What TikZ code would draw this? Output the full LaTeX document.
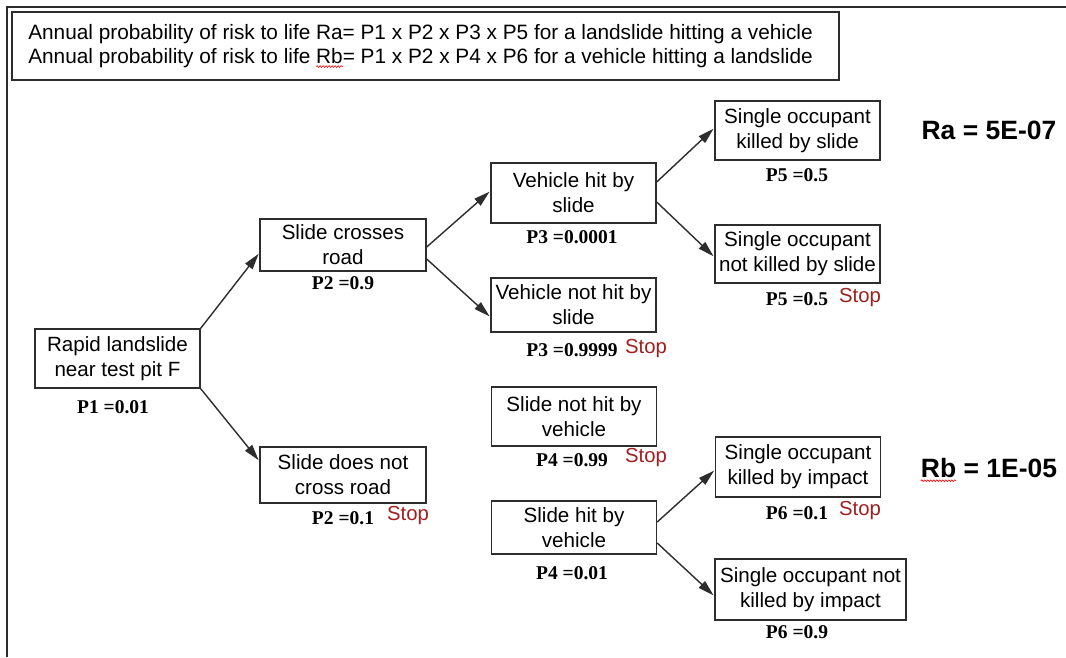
\documentclass[tikz,border=0pt]{standalone}
\usepackage{fontspec}
\setmainfont{Liberation Sans}
\newfontfamily\labelfont{Liberation Serif}
\usetikzlibrary{arrows.meta,decorations.pathmorphing}

\definecolor{stopred}{RGB}{160,32,32}
\definecolor{linegray}{RGB}{45,45,45}

% red wavy spell-check underline under a word
\newcommand\spellwave[1]{\tikz[baseline=(sw.base)]{%
  \node[inner sep=0pt,outer sep=0pt] (sw) {#1};
  \draw[overlay,red,line width=0.6pt,decorate,
        decoration={snake,amplitude=0.9pt,segment length=3pt}]
    ([yshift=-3pt]sw.south west) -- ([yshift=-3pt]sw.south east);}}

\tikzset{
  box/.style={draw=linegray, line width=1.4pt, fill=white, align=center,
    inner sep=0pt, minimum width=165pt, font=\fontsize{20.6}{25}\selectfont},
  prob/.style={inner sep=0pt, font=\labelfont\bfseries\fontsize{19.5}{22}\selectfont},
  stoptext/.style={inner sep=0pt, text=stopred, font=\fontsize{20.3}{24}\selectfont},
  risk/.style={inner sep=0pt, font=\bfseries\fontsize{26.5}{30}\selectfont},
  link/.style={draw=linegray, line width=1.4pt, shorten >=1pt,
    -{Triangle[length=16pt,width=9pt]}},
}

\begin{document}
\begin{tikzpicture}[x=1pt,y=-1pt]
  \useasboundingbox (0,0) rectangle (1066,657);
  \fill[white] (0,0) rectangle (1066,657);

  % outer frame (left and top edges)
  \draw[linegray, line width=1.6pt] (7,657) -- (7,7) -- (1066,7);

  % formula header
  \node[draw=linegray, line width=1.8pt, minimum width=827pt, minimum height=68pt,
        inner sep=0pt] (header) at (425.5,46) {};
  \node[anchor=west, align=left, inner sep=0pt, font=\fontsize{20.8}{24}\selectfont]
    (headtxt) at ([xshift=17pt]header.west)
    {Annual probability of risk to life Ra= P1 x P2 x P3 x P5 for a landslide hitting a vehicle\\
     Annual probability of risk to life \spellwave{Rb}= P1 x P2 x P4 x P6 for a vehicle hitting a landslide};

  % event tree boxes
  \node[box, minimum height=59pt] (rapid) at (117.5,358.5) {Rapid landslide\\near test pit F};
  \node[box, minimum width=166pt, minimum height=52pt] (cross) at (343,245) {Slide crosses\\road};
  \node[box, minimum width=166pt, minimum height=56pt] (nocross) at (343,475) {Slide does not\\cross road};
  \node[box, minimum height=60pt] (vhit) at (573.5,193) {Vehicle hit by\\slide};
  \node[box, minimum height=54pt] (vnohit) at (573.5,305) {Vehicle not hit by\\slide};
  \node[box, minimum height=59pt] (kslide) at (797.5,130.5) {Single occupant\\killed by slide};
  \node[box, minimum height=58pt] (nkslide) at (797.5,254) {Single occupant\\not killed by slide};
  \node[box, minimum height=59pt] (snohit) at (574,416.5) {Slide not hit by\\vehicle};
  \node[box, minimum height=53pt] (shit) at (574,527.5) {Slide hit by\\vehicle};
  \node[box, minimum height=60pt] (kimpact) at (798,467) {Single occupant\\killed by impact};
  \node[box, minimum width=191pt, minimum height=61pt] (nkimpact) at (810.5,589.5) {Single occupant not\\killed by impact};

  % probabilities
  \node[prob] (p1) at (113,407) {P1 =0.01};
  \node[prob] (p2a) at (343,283) {P2 =0.9};
  \node[prob] (p2b) at (343,518) {P2 =0.1};
  \node[prob] (p3a) at (572,237) {P3 =0.0001};
  \node[prob] (p3b) at (572,350) {P3 =0.9999};
  \node[prob] (p5a) at (797,175) {P5 =0.5};
  \node[prob] (p5b) at (797,299) {P5 =0.5};
  \node[prob] (p4a) at (572,460) {P4 =0.99};
  \node[prob] (p4b) at (572,573) {P4 =0.01};
  \node[prob] (p6a) at (797,513) {P6 =0.1};
  \node[prob] (p6b) at (797,632) {P6 =0.9};

  % terminal branches
  \node[stoptext] (stop2) at (408,516) {Stop};
  \node[stoptext] (stop3) at (646,349) {Stop};
  \node[stoptext] (stop5) at (860,298) {Stop};
  \node[stoptext] (stop4) at (646,458) {Stop};
  \node[stoptext] (stop6) at (860,511) {Stop};

  % resulting risks
  \node[risk] (ra) at (989,130) {Ra = 5E-07};
  \node[risk] (rb) at (989,468) {\spellwave{Rb} = 1E-05};

  % branches
  \draw[link] (rapid.north east) -- ([yshift=-8pt]cross.west);
  \draw[link] (rapid.south east) -- ([yshift=14pt]nocross.west);
  \draw[link] ([yshift=-2pt]cross.east) -- ([yshift=2pt]vhit.west);
  \draw[link] ([yshift=-14pt]cross.east) -- ([yshift=-12pt]vnohit.west);
  \draw[link] ([yshift=11pt]vhit.east) -- ([yshift=2.5pt]kslide.west);
  \draw[link] ([yshift=-9pt]vhit.east) -- ([yshift=-3pt]nkslide.west);
  \draw[link] ([yshift=5.5pt]shit.east) -- ([yshift=-3pt]kimpact.west);
  \draw[link] ([yshift=-15.5pt]shit.east) -- ([yshift=-6.5pt]nkimpact.west);
\end{tikzpicture}
\end{document}
